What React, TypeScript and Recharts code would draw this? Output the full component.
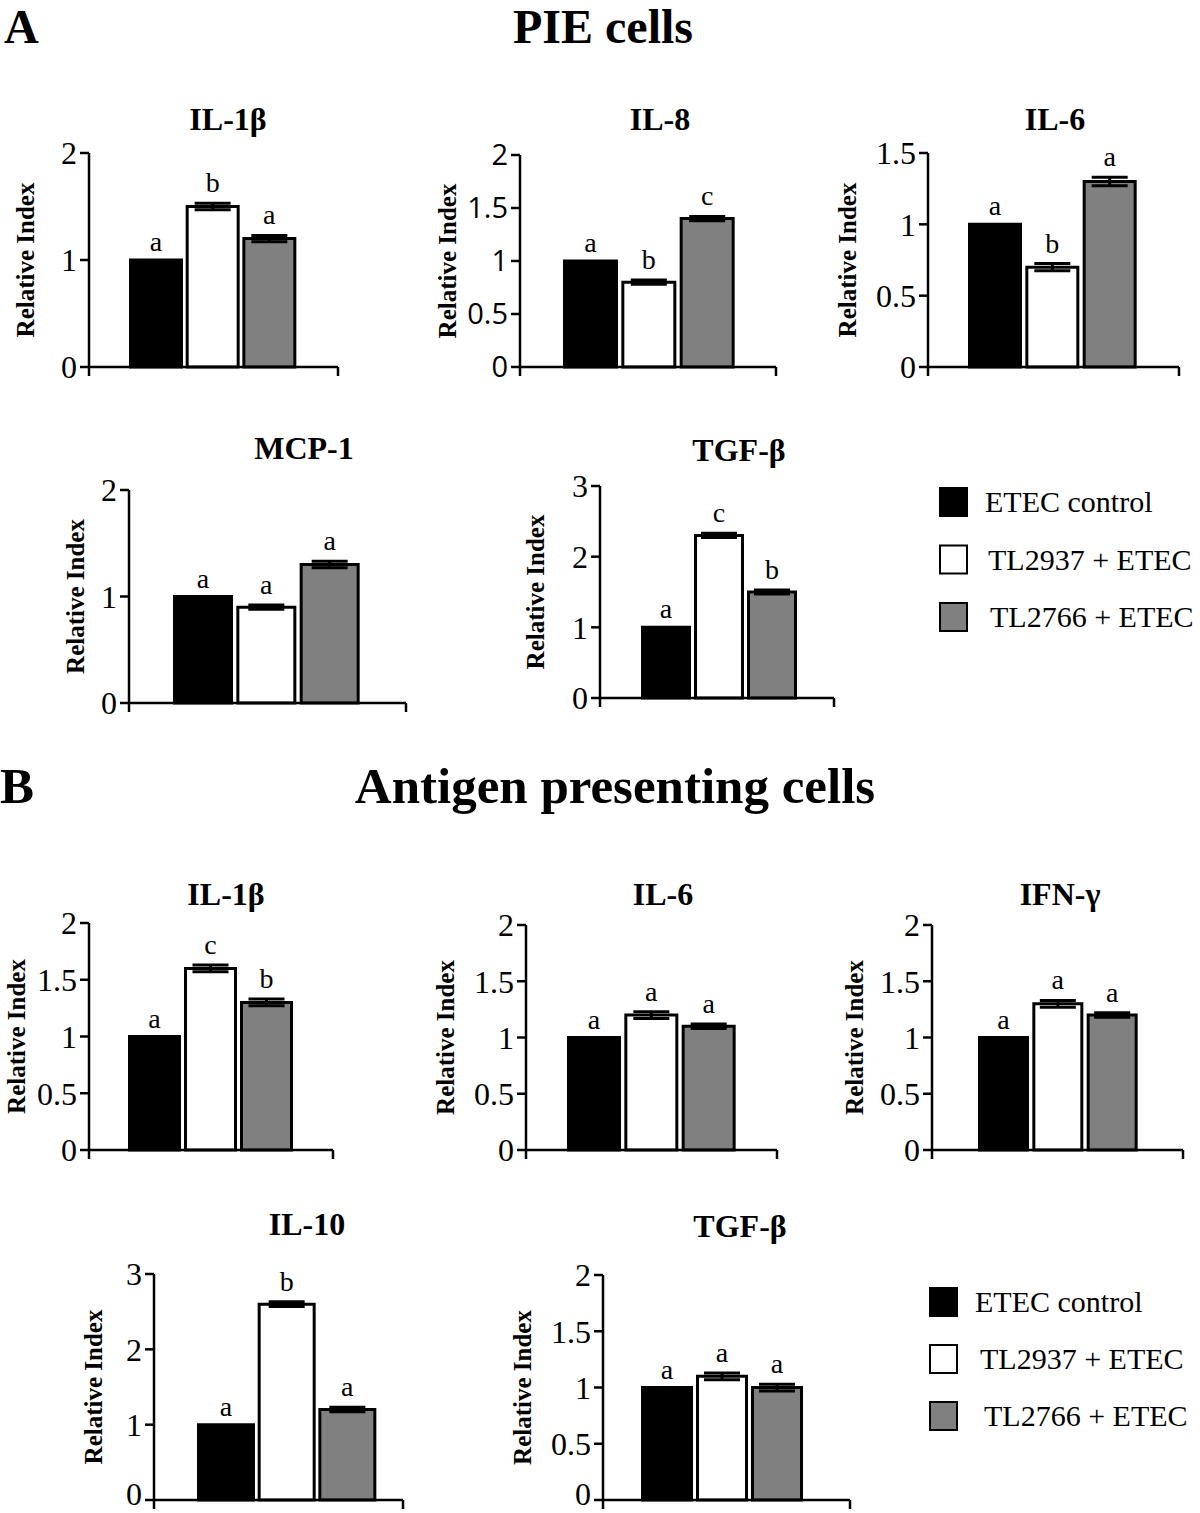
import React from "react";
import {
  BarChart,
  Bar,
  XAxis,
  YAxis,
  Cell,
  ErrorBar,
  LabelList,
} from "recharts";

// groups shown in every panel
const SERIES = ["ETEC control", "TL2937 + ETEC", "TL2766 + ETEC"];

// A: PIE cells
const PIE_TITLES = ["IL-1β", "IL-8", "IL-6", "MCP-1", "TGF-β"];
const PIE_VALUES = [
  [1, 1.5, 1.2],
  [1, 0.8, 1.4],
  [1, 0.7, 1.3],
  [1, 0.9, 1.3],
  [1, 2.3, 1.5],
];
const PIE_ERRORS = [
  [0, 0.03, 0.03],
  [0, 0.02, 0.02],
  [0, 0.025, 0.03],
  [0, 0.02, 0.03],
  [0, 0.03, 0.03],
];
const PIE_LETTERS = [
  ["a", "b", "a"],
  ["a", "b", "c"],
  ["a", "b", "a"],
  ["a", "a", "a"],
  ["a", "c", "b"],
];
const PIE_TICKS = [
  [0, 1, 2],
  [0, 0.5, 1, 1.5, 2],
  [0, 0.5, 1, 1.5],
  [0, 1, 2],
  [0, 1, 2, 3],
];

// B: antigen presenting cells
const APC_TITLES = ["IL-1β", "IL-6", "IFN-γ", "IL-10", "TGF-β"];
const APC_VALUES = [
  [1, 1.6, 1.3],
  [1, 1.2, 1.1],
  [1, 1.3, 1.2],
  [1, 2.6, 1.2],
  [1, 1.1, 1.0],
];
const APC_ERRORS = [
  [0, 0.03, 0.03],
  [0, 0.03, 0.02],
  [0, 0.03, 0.02],
  [0, 0.03, 0.03],
  [0, 0.03, 0.03],
];
const APC_LETTERS = [
  ["a", "c", "b"],
  ["a", "a", "a"],
  ["a", "a", "a"],
  ["a", "b", "a"],
  ["a", "a", "a"],
];
const APC_TICKS = [
  [0, 0.5, 1, 1.5, 2],
  [0, 0.5, 1, 1.5, 2],
  [0, 0.5, 1, 1.5, 2],
  [0, 1, 2, 3],
  [0, 0.5, 1, 1.5, 2],
];

// layout only (page px): axis x, right end, top tick, zero, bar group edges, title, y-label offset
type Box = {
  x0: number; x1: number; yT: number; yZ: number;
  bx0: number; bx1: number; tx: number; ty: number; ld: number;
  sans?: boolean; lift?: number;
};
const PIE_BOX: Box[] = [
  { x0: 89, x1: 338, yT: 153, yZ: 367, bx0: 129, bx1: 296, tx: 228, ty: 130, ld: 64 },
  { x0: 520, x1: 776, yT: 155, yZ: 367, bx0: 563, bx1: 735, tx: 660, ty: 130, ld: 73, sans: true },
  { x0: 928, x1: 1179, yT: 153, yZ: 367, bx0: 968, bx1: 1137, tx: 1055, ty: 130, ld: 81 },
  { x0: 129, x1: 406, yT: 490, yZ: 703, bx0: 173, bx1: 360, tx: 304, ty: 459, ld: 54 },
  { x0: 600, x1: 834, yT: 486, yZ: 698, bx0: 641, bx1: 797, tx: 739, ty: 461, ld: 65 },
];
const APC_BOX: Box[] = [
  { x0: 89, x1: 333, yT: 923, yZ: 1150, bx0: 128, bx1: 293, tx: 226, ty: 905, ld: 73 },
  { x0: 526, x1: 777, yT: 925, yZ: 1150, bx0: 567, bx1: 736, tx: 663, ty: 905, ld: 81 },
  { x0: 932, x1: 1183, yT: 925, yZ: 1150, bx0: 978, bx1: 1138, tx: 1060, ty: 905, ld: 78 },
  { x0: 154, x1: 403, yT: 1274, yZ: 1500, bx0: 197, bx1: 376, tx: 307, ty: 1235, ld: 61, lift: 6 },
  { x0: 603, x1: 850, yT: 1275, yZ: 1500, bx0: 641, bx1: 803, tx: 740, ty: 1237, ld: 81, lift: 6 },
];

const FILLS = ["#000000", "#ffffff", "#808080"];
const SERIF = "'Liberation Serif', 'Times New Roman', serif";
const SANS = "'Open Sans', 'Liberation Sans', sans-serif";

const LEFT = 110;
const TOP = 40;
const BOTTOM = 24;
const RIGHT = 8;
const TICK = 9;

interface PanelProps {
  values: number[];
  errors: number[];
  letters: string[];
  ticks: number[];
  box: Box;
}

function Panel({ values, errors, letters, ticks, box }: PanelProps) {
  const plotW = box.x1 - box.x0;
  const plotH = box.yZ - box.yT;
  const width = LEFT + plotW + RIGHT;
  const height = TOP + plotH + BOTTOM;
  const max = ticks[ticks.length - 1];
  const data = SERIES.map((name, i) => ({
    name,
    value: values[i],
    err: errors[i],
    letter: letters[i],
  }));
  const lx = LEFT - box.ld;
  const ly = TOP + plotH / 2;
  const base = TOP + plotH;

  const renderLetter = (p: any) => {
    const i = p.index as number;
    const errPx = (errors[i] / max) * plotH;
    const gap = errors[i] > 0 ? 11 + errPx : 9;
    return (
      <text
        key={`l${i}`}
        x={Number(p.x) + Number(p.width) / 2}
        y={Number(p.y) - gap}
        textAnchor="middle"
        fontFamily={SERIF}
        fontSize={28}
        fill="#000"
      >
        {p.value}
      </text>
    );
  };

  // y tick labels; the zero label of the bottom row is nudged up to stay on the page
  const renderYTick = (p: any) => {
    const v = p.payload?.value;
    const shift = v === 0 && box.lift ? box.lift : 0;
    return (
      <text
        key={`y${v}`}
        x={p.x}
        y={Number(p.y) - shift}
        dy="0.355em"
        textAnchor="end"
        fill="#000"
        fontSize={box.sans ? 29 : 32}
        fontFamily={box.sans ? SANS : SERIF}
      >
        {v}
      </text>
    );
  };

  // category axis: Excel-style marks only at both ends of the axis
  const renderEdgeTick = (p: any) => {
    const i = p.index as number;
    if (i === 0) {
      return (
        <line key="e0" x1={LEFT} x2={LEFT} y1={base} y2={base + TICK} stroke="#000" strokeWidth={2.5} />
      );
    }
    if (i === data.length - 1) {
      return (
        <line
          key="e1"
          x1={LEFT + plotW}
          x2={LEFT + plotW}
          y1={base}
          y2={base + TICK}
          stroke="#000"
          strokeWidth={2.5}
        />
      );
    }
    return <g key={`e${i}`} />;
  };

  return (
    <div style={{ position: "absolute", left: box.x0 - LEFT, top: box.yT - TOP }}>
      <BarChart
        width={width}
        height={height}
        data={data}
        margin={{ top: TOP, right: RIGHT, bottom: 0, left: 0 }}
        barCategoryGap={3}
      >
        <XAxis
          dataKey="name"
          type="category"
          interval={0}
          height={BOTTOM}
          padding={{ left: box.bx0 - box.x0 - 1.5, right: box.x1 - box.bx1 - 1.5 }}
          axisLine={{ stroke: "#000", strokeWidth: 2.5 }}
          tickLine={false}
          tick={renderEdgeTick}
        />
        <YAxis
          width={LEFT}
          domain={[0, max]}
          ticks={ticks}
          interval={0}
          tickSize={TICK}
          tickMargin={3}
          axisLine={{ stroke: "#000", strokeWidth: 2.5 }}
          tickLine={{ stroke: "#000", strokeWidth: 2.5 }}
          tick={renderYTick}
          label={{
            content: () => (
              <text
                x={lx}
                y={ly}
                transform={`rotate(-90 ${lx} ${ly})`}
                textAnchor="middle"
                dominantBaseline="central"
                fontFamily={SERIF}
                fontWeight="bold"
                fontSize={25}
                fill="#000"
              >
                Relative Index
              </text>
            ),
          }}
        />
        <Bar dataKey="value" stroke="#000" strokeWidth={3} isAnimationActive={false}>
          {data.map((d, i) => (
            <Cell key={d.name} fill={FILLS[i]} />
          ))}
          <ErrorBar
            dataKey="err"
            width={18}
            stroke="#000"
            strokeWidth={3}
            direction="y"
            isAnimationActive={false}
          />
          <LabelList dataKey="letter" content={renderLetter} />
        </Bar>
      </BarChart>
    </div>
  );
}

function LegendBlock({ x, y, tx, step }: { x: number; y: number; tx: number[]; step: number }) {
  return (
    <g>
      {SERIES.map((s, i) => (
        <g key={s}>
          <rect
            x={x}
            y={y + i * step - 14}
            width={27}
            height={28}
            fill={FILLS[i]}
            stroke="#000"
            strokeWidth={2}
          />
          <text x={tx[i]} y={y + i * step + 10} fontFamily={SERIF} fontSize={30} fill="#000">
            {s}
          </text>
        </g>
      ))}
    </g>
  );
}

export default function App() {
  const titleProps = {
    textAnchor: "middle" as const,
    fontFamily: SERIF,
    fontWeight: "bold",
    fontSize: 32,
    fill: "#000",
  };
  return (
    <div
      style={{
        position: "absolute",
        left: 0,
        top: 0,
        width: 1200,
        height: 1513,
        background: "#fff",
        overflow: "hidden",
      }}
    >
      <svg width={1200} height={1513} style={{ position: "absolute", left: 0, top: 0 }}>
        <text x={4} y={43} fontFamily={SERIF} fontWeight="bold" fontSize={48}>A</text>
        <text x={603} y={43} textAnchor="middle" fontFamily={SERIF} fontWeight="bold" fontSize={48}>
          PIE cells
        </text>
        <text x={0} y={803} fontFamily={SERIF} fontWeight="bold" fontSize={51}>B</text>
        <text x={615} y={803} textAnchor="middle" fontFamily={SERIF} fontWeight="bold" fontSize={51}>
          Antigen presenting cells
        </text>
        {PIE_TITLES.map((t, i) => (
          <text key={`pt${i}`} x={PIE_BOX[i].tx} y={PIE_BOX[i].ty} {...titleProps}>{t}</text>
        ))}
        {APC_TITLES.map((t, i) => (
          <text key={`at${i}`} x={APC_BOX[i].tx} y={APC_BOX[i].ty} {...titleProps}>{t}</text>
        ))}
        <LegendBlock x={940} y={502} tx={[985, 988, 990]} step={57.5} />
        <LegendBlock x={930} y={1302} tx={[975, 980, 984]} step={57} />
      </svg>
      {PIE_TITLES.map((t, i) => (
        <Panel
          key={`p${t}${i}`}
          values={PIE_VALUES[i]}
          errors={PIE_ERRORS[i]}
          letters={PIE_LETTERS[i]}
          ticks={PIE_TICKS[i]}
          box={PIE_BOX[i]}
        />
      ))}
      {APC_TITLES.map((t, i) => (
        <Panel
          key={`a${t}${i}`}
          values={APC_VALUES[i]}
          errors={APC_ERRORS[i]}
          letters={APC_LETTERS[i]}
          ticks={APC_TICKS[i]}
          box={APC_BOX[i]}
        />
      ))}
    </div>
  );
}
